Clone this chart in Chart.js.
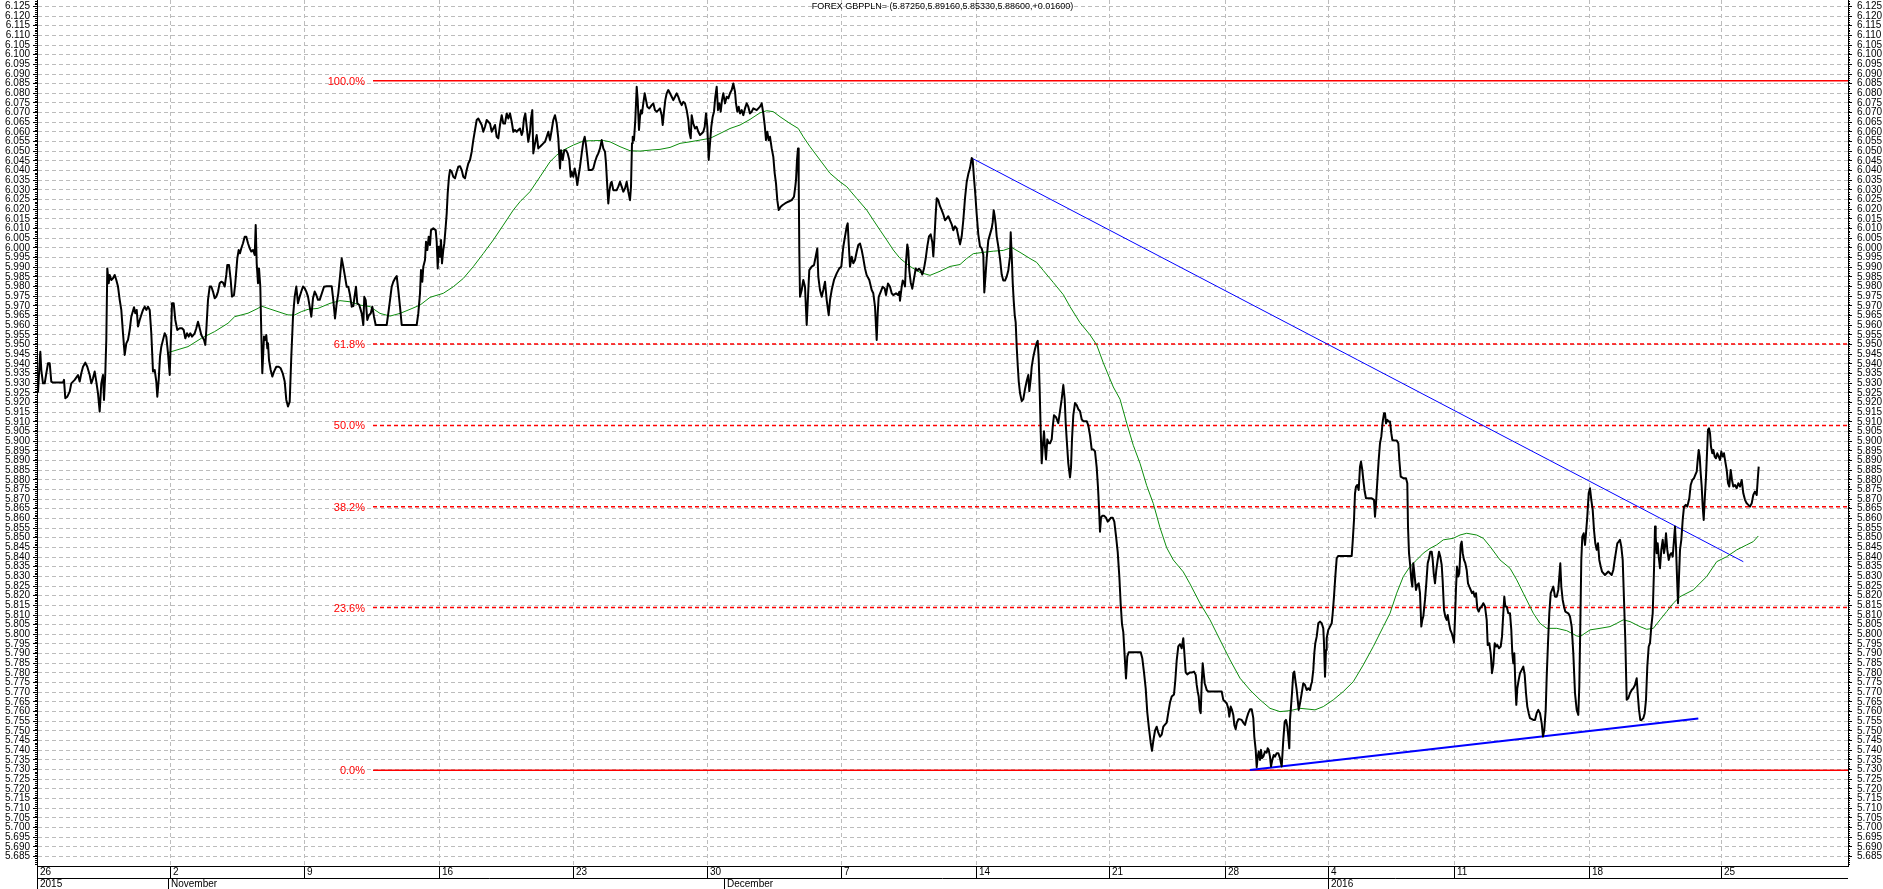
<!DOCTYPE html>
<html>
<head>
<meta charset="utf-8">
<script src="https://cdn.jsdelivr.net/npm/chart.js@4.4.0/dist/chart.umd.min.js"></script>
<style>
html, body { margin: 0; padding: 0; background: #fff; }
</style>
</head>
<body>
<canvas id="Chart" width="1883" height="889"></canvas>
<script>
// bar index = hourly bar counted from Mon 26 Oct 2015
const weekBars = [0, 133, 267, 402, 536, 670, 804, 939, 1072, 1188, 1291, 1417, 1552, 1684];
const weekLabels = ["26", "2", "9", "16", "23", "30", "7", "14", "21", "28", "4", "11", "18", "25"];
const monthBars = [0, 131, 687, 1291];
const monthLabels = ["2015", "November", "December", "2016"];
const lastBar = 1811;
const yMin = 5.6801, yMax = 6.1283;
const titleText = "FOREX GBPPLN= (5.87250,5.89160,5.85330,5.88600,+0.01600)";

// GBPPLN close [bar, price]
const price = [
[0,5.9265],[1,5.9256],[3.3,5.9463],[4.3,5.9368],[6,5.9299],[7.7,5.9299],[9.3,5.9351],[11,5.9403],[12.7,5.9403],[14.3,5.9308],[16,5.9303],[21,5.9303],[26,5.9303],[27,5.9317],[28.3,5.9222],[30.3,5.923],[32.7,5.9256],[34.3,5.9299],[37.7,5.9317],[41,5.9342],[42.7,5.9308],[44.3,5.9351],[46,5.9385],[48.3,5.9406],[50.3,5.9385],[52.7,5.9342],[54.3,5.9299],[56,5.9325],[57.7,5.936],[59.3,5.9308],[61,5.9247],[62.7,5.9153],[64.3,5.9299],[66,5.9342],[67,5.9213],[68.3,5.9351],[69.3,5.9523],[70.3,5.9894],[71.7,5.9817],[72.7,5.986],[74.3,5.9834],[76,5.9843],[77.7,5.986],[79.3,5.9834],[81,5.98],[82.7,5.9731],[84.3,5.9679],[86,5.9558],[87.7,5.9446],[89.3,5.9506],[91,5.9524],[92.7,5.9575],[94.3,5.9644],[97,5.9693],[98.3,5.9662],[99.7,5.9679],[101,5.9593],[102.7,5.9627],[104.3,5.9653],[106,5.9679],[107.7,5.9696],[109.3,5.9679],[111,5.9696],[112.7,5.9679],[114.3,5.9558],[116,5.936],[117.7,5.9368],[119.3,5.9308],[120.3,5.923],[121.7,5.9317],[123,5.9437],[124.3,5.9489],[126,5.9524],[127.7,5.9558],[129.3,5.9541],[131,5.9455],[132.7,5.9342],[133.7,5.9506],[135,5.9713],[136.7,5.9713],[138.3,5.9627],[140.3,5.9575],[142.7,5.9584],[145,5.9584],[146.7,5.9575],[148.3,5.9532],[150,5.9558],[151.7,5.9541],[153.3,5.9558],[155,5.9541],[157.7,5.9558],[159.3,5.9584],[161,5.9618],[162.7,5.9584],[164.3,5.9549],[167,5.9524],[168.3,5.9498],[169.3,5.9575],[171,5.9731],[172.7,5.98],[174.3,5.98],[176,5.9774],[177.7,5.9739],[179.3,5.9748],[181,5.9774],[182.7,5.9817],[184.3,5.9825],[186,5.982],[187.7,5.98],[189.3,5.986],[190.3,5.9912],[192,5.9912],[193.7,5.9834],[195,5.9748],[197,5.9756],[198.3,5.9817],[200.3,5.9946],[201.7,5.9989],[203,5.9972],[204.3,5.9998],[206,6.0024],[207.7,6.0058],[209.3,6.0058],[211,6.0024],[212.7,5.9998],[214.3,5.9981],[216,5.9989],[217.7,5.9963],[218.7,6.0119],[219.7,5.992],[221,5.9817],[222,5.9894],[223.3,5.98],[224.3,5.9558],[225.3,5.9351],[227,5.9541],[228.3,5.9524],[229.3,5.9549],[230.3,5.948],[231,5.9506],[232,5.942],[233.7,5.9368],[235.3,5.9334],[237,5.936],[239.3,5.9385],[241.7,5.9385],[243.7,5.9377],[245.7,5.9351],[247.7,5.9308],[249.3,5.9213],[251,5.9179],[252.7,5.9204],[254.3,5.9437],[256,5.9644],[257.7,5.9748],[259.3,5.98],[261,5.9713],[262.7,5.9748],[264.3,5.9774],[266,5.98],[267.7,5.9791],[269.3,5.9774],[271,5.9748],[272.7,5.9696],[274.3,5.9644],[276,5.9739],[277.7,5.9774],[279.3,5.9756],[281,5.9731],[282.7,5.9731],
[287,5.9799],[289.7,5.9802],[294.7,5.9802],[296.3,5.973],[298,5.9635],[299.7,5.9713],[301.3,5.9765],[303,5.9851],[304.7,5.9946],[306.3,5.9903],[308,5.9851],[309.7,5.9799],[311.3,5.9799],[313,5.9756],[314.7,5.9696],[316.3,5.9699],[318,5.9765],[319,5.9799],[320.3,5.9713],[322.3,5.9704],[324.7,5.9661],[326.3,5.9601],[327.3,5.9747],[328.7,5.973],[330.3,5.9627],[332,5.9653],[333.7,5.9661],[335.3,5.9696],[337,5.9644],[338.7,5.9601],[349.7,5.9601],[351.3,5.9661],[353,5.973],[354.7,5.9799],[356.3,5.9825],[358,5.9842],[359.7,5.9854],[361.3,5.9782],[363,5.9696],[364.7,5.9601],[379.7,5.9601],[381.3,5.9661],[383,5.9765],[384,5.9885],[385.3,5.9825],[386.3,5.9903],[388,5.9937],[389,6.0032],[390.3,5.9989],[391.7,6.0058],[393,6.0015],[394,6.0092],[396.3,6.0101],[398.7,6.0092],[399.7,6.0032],[400.7,5.9894],[401.7,6.0006],[403,5.9954],[404,6.0041],[405,5.992],[406.3,5.9989],[407.3,6.0023],[408.7,6.011],[409.7,6.0179],[410.7,6.0282],[412,6.0368],[413,6.0403],[414.7,6.0394],[416.3,6.0368],[418,6.036],[419.7,6.0394],[421.3,6.042],[423,6.0423],[424.7,6.0403],[426.3,6.0368],[428,6.036],[429.7,6.0403],[431.3,6.0437],[433,6.0455],[434.7,6.0498],[436.3,6.0558],[438,6.061],[439.7,6.0662],[441.3,6.067],[443,6.0653],[444.7,6.0636],[446.3,6.0601],[448,6.0627],[449.7,6.0662],[451.3,6.0653],[453,6.0644],[454.7,6.0601],[456.3,6.0618],[458,6.0636],[459.7,6.0575],[461.3,6.0567],[463,6.0636],[464.7,6.0687],[466.3,6.0644],[468,6.0644],[469.7,6.0696],[471.3,6.067],[473,6.0696],[474.7,6.0653],[476.3,6.0601],[478,6.061],[479.7,6.0601],[481.3,6.061],[483,6.0618],[484.7,6.0584],[485.7,6.0601],[487,6.067],[488.3,6.0696],[489.7,6.0627],[491.3,6.0549],[493,6.0601],[494,6.067],[495.3,6.0713],[496.3,6.0489],[498,6.0541],[499.7,6.0584],[501.3,6.0515],[503,6.0524],[504.7,6.0532],[506.3,6.0541],[508,6.0549],[509.7,6.0575],[511.3,6.0601],[513,6.0558],[514.7,6.061],[516.3,6.0662],[518,6.0687],[519.7,6.0644],[521.3,6.0567],[523,6.0411],[524,6.0506],[525.7,6.0455],[527.3,6.0506],[529,6.0506],[530.7,6.0489],[532.3,6.0455],[533.7,6.0368],[534.7,6.0394],[536.3,6.0368],[537.7,6.0411],[539,6.0377],[540.3,6.0325],[541.7,6.0377],[543,6.042],[544.7,6.0489],[546.3,6.0549],[547.7,6.0575],[549,6.0532],[550.3,6.0472],[551.7,6.0403],[554.7,6.0403],[556.3,6.0411],[558,6.0446],[559.7,6.0472],[561.3,6.0489],[563,6.0515],[564.7,6.0558],[566.3,6.0515],[568,6.0498],[569,6.0437],[570.3,6.0317],[571.3,6.023],[572.3,6.0291],[573.7,6.0334],
[574.7,6.0342],[576.3,6.0299],[579.7,6.0299],[581.3,6.0317],[583,6.0342],[584.7,6.0317],[586.3,6.0291],[588,6.0308],[589.7,6.0342],[591.3,6.0291],[593,6.0247],[594,6.0317],[595,6.0541],[595.7,6.0575],[597,6.0558],[598.3,6.0662],[599.7,6.0834],[600.7,6.0765],[602,6.061],[603,6.0679],[604,6.0713],[605,6.0696],[606.3,6.0748],[607.7,6.08],[609,6.0765],[610.3,6.0731],[612.3,6.0722],[614.7,6.0739],[616.3,6.0748],[618,6.0713],[619.7,6.0705],[621.3,6.0713],[623,6.0722],[624.7,6.0687],[625.7,6.0636],[627,6.0705],[628.3,6.0765],[629.7,6.08],[631.3,6.0817],[633,6.08],[634.7,6.0782],[636.3,6.0765],[638,6.0782],[639.7,6.08],[641.3,6.0782],[643,6.0756],[644.7,6.0739],[646.3,6.0756],[648,6.0748],[649.7,6.0713],[651.3,6.0662],[652.3,6.0601],[653.7,6.0567],[654.7,6.0687],[656.3,6.0644],[658,6.0618],[659.7,6.0627],[661.3,6.0601],[663,6.0584],[664.7,6.0592],[666.3,6.0601],[667.7,6.0627],[669,6.0696],[670.3,6.0627],[671.7,6.0455],[673,6.0541],[674.3,6.0627],[675.7,6.0679],[677,6.0705],[678.3,6.0782],[679.7,6.0834],[681,6.0713],[682.3,6.0748],[683.7,6.0705],[685,6.0765],[686.3,6.08],[688,6.0748],[689.7,6.0782],[691.3,6.0774],[693,6.08],[694.7,6.0817],[696.3,6.0851],[698,6.0808],[699,6.0748],[700.3,6.0705],[701.7,6.0731],[703,6.0696],[704.7,6.0713],[706.3,6.0687],[708,6.0722],[709.7,6.0748],[711.3,6.0731],[713,6.0696],[714.7,6.0705],[716.3,6.0722],[719.7,6.0713],[723,6.0731],[724.7,6.0748],[726.3,6.0696],[727.7,6.0636],[729,6.0558],[730.3,6.0601],[731.7,6.0558],[733,6.0575],[734.7,6.0515],[736.3,6.0472],[737.7,6.0386],[739,6.0334],[740.3,6.0247],[741.7,6.0196],[743.7,6.0213],[745.7,6.0222],[748,6.023],[751.3,6.0239],[754.7,6.0247],[757,6.0265],[758.3,6.0317],[759,6.0351],[760,6.0455],[761,6.0515],[761.7,6.0351],[762.3,5.9989],[763,5.9747],[764.7,5.9782],[766.3,5.9834],[768,5.9799],[769.7,5.9601],[771,5.9747],[772.3,5.9885],[774.7,5.9903],[777,5.9911],[779,5.9963],[780.3,5.9997],[781.3,5.9851],[783,5.9782],[784.7,5.9747],[786.3,5.9782],[788,5.9825],[789.7,5.973],[791.7,5.9652],[793,5.973],[794.7,5.9782],[797,5.9834],[799.7,5.9868],[802.3,5.9894],[804.3,5.9903],[806.3,6.0006],[808,6.0058],[809.7,6.011],[810.7,6.0127],[811.7,6.0023],[813,5.9903],[814.7,5.9954],[816.3,5.992],[818,5.9937],[819.7,5.998],[821.3,6.0015],[823,6.0023],[824.7,5.9989],[826.3,5.9946],[828,5.9894],[829.7,5.9859],[832.3,5.9834],[834.7,5.9782],[836.3,5.9765],[838,5.9696],[839.7,5.9523],[840.7,5.9661],[841.7,5.9747],[843.7,5.9773],[845.7,5.9799],[847.7,5.979],[849,5.9756],[851,5.9816],[853,5.9799],[854.7,5.9765],[856.3,5.9756],[859,5.9765],[861,5.9756],[862.3,5.9773],
[863,5.9727],[864.7,5.98],[865.7,5.9831],[867,5.9821],[868,5.98],[869,5.9925],[870.3,6.0018],[871.3,5.9987],[872.3,5.9883],[873.7,5.9821],[875.3,5.9789],[877,5.9841],[878.7,5.9893],[880.3,5.9883],[882,5.9893],[883.7,5.9883],[885.3,5.9862],[887,5.9893],[888.7,5.9945],[890.3,6.0008],[892,6.006],[893.7,6.007],[895.3,6.0029],[896.3,5.9956],[897.3,6.0039],[898.7,6.0174],[899.7,6.0257],[901.3,6.0247],[903,6.0216],[904.7,6.0195],[906.3,6.0174],[908,6.0143],[909.7,6.0153],[911.3,6.0164],[913,6.0143],[914.7,6.0122],[916.3,6.0091],[918,6.0112],[919.7,6.0101],[921.3,6.006],[923,6.0018],[924.7,6.006],[926.3,6.0143],[928,6.0257],[929.7,6.0341],[931.3,6.0382],[933,6.0413],[934.7,6.0465],[935.7,6.0455],[937,6.0361],[938.3,6.0278],[939.7,6.0174],[941.3,6.007],[943,6.0008],[944.7,5.9997],[946.3,5.9966],[947.3,5.9769],[948.3,5.9841],[949.7,5.9945],[951.3,6.0039],[953,6.007],[954.7,6.0101],[955.7,6.0133],[956.7,6.0195],[957.7,6.0164],[958.7,6.0122],[959.7,6.006],[961.3,6.0008],[963,5.9945],[964.7,5.9862],[966.3,5.9831],[968,5.9831],[969.7,5.9852],[971.3,5.9883],[973,5.9956],[973.7,6.0081],[974.7,5.9966],[975.7,5.9821],[976.7,5.9727],[977.7,5.9654],[978.7,5.9613],[979.7,5.9488],[980.7,5.9394],[981.7,5.9311],[983,5.9249],[984.7,5.9207],[986.3,5.9217],[988,5.9269],[989.7,5.9311],[991.3,5.9342],[992.3,5.9259],[993.7,5.9321],[994.7,5.9384],[996.3,5.9436],[998,5.9477],[999.7,5.9509],[1000.7,5.9519],[1001.7,5.9425],[1002.7,5.9259],[1003.7,5.9051],[1004.7,5.8885],[1005.7,5.8968],[1007,5.9051],[1008,5.8968],[1009,5.8905],[1010.3,5.9009],[1011.7,5.8989],[1013,5.8989],[1014.7,5.9009],[1015.7,5.9072],[1017,5.9134],[1019,5.9124],[1021.3,5.9093],[1023,5.9155],[1024.7,5.9217],[1026.3,5.929],[1027.7,5.9217],[1028.7,5.9093],[1029.7,5.9009],[1031.3,5.8885],[1033,5.8812],[1034,5.8864],[1035,5.9009],[1036.3,5.9134],[1038,5.9197],[1039.7,5.9186],[1041.3,5.9165],[1043,5.9155],[1044.7,5.9113],[1046.3,5.9103],[1049.7,5.9103],[1051.3,5.9082],[1053,5.903],[1054.7,5.8957],[1056.3,5.8957],[1058,5.8947],[1059.7,5.8864],[1061,5.876],[1062,5.8656],[1063,5.8531],[1064,5.8604],[1065.3,5.8614],[1067,5.8614],[1069,5.8604],[1070.7,5.8583],[1072.3,5.8593],[1074,5.8604],[1075.7,5.8604],[1077.3,5.8583],[1079,5.851],[1080.7,5.8427],[1082.3,5.8302],[1083.7,5.8157],[1085,5.8053],[1086.3,5.8011],[1087.7,5.7886],[1089,5.7772],[1090.3,5.7886],[1091.7,5.7907],[1103.7,5.7907],[1105.3,5.7876],[1107,5.7803],[1108.7,5.772],[1110.3,5.7595],[1112,5.7512],[1113.7,5.7439],[1115,5.7397],[1116.3,5.7449],[1118,5.7501],[1119.7,5.7522],[1121.3,5.7491],[1123,5.747],[1124.7,5.7481],[1126.3,5.7522],[1128,5.7533],[1129.7,5.7543],[1131.3,5.7595],[1133,5.7647],[1134.7,5.7678],[1137,5.7689],[1138.3,5.7761],[1139.7,5.7865],[1141.3,5.7938],[1143,5.7949],[1144.7,5.7928],[1146.3,5.798],[1147.3,5.7907],[1148.7,5.7803],[1150.3,5.7793],[1153,5.7803],
[1154.7,5.7802],[1157,5.7807],[1158.7,5.779],[1159.7,5.7738],[1160.7,5.7704],[1161.7,5.7678],[1162.7,5.7609],[1163.7,5.7592],[1164.7,5.7747],[1165.7,5.785],[1166.7,5.7799],[1167.7,5.7747],[1168.7,5.773],[1169.7,5.7712],[1171.3,5.7704],[1184.7,5.7704],[1186.3,5.7661],[1188,5.7652],[1189.7,5.7643],[1191.3,5.7617],[1192.3,5.7574],[1193.7,5.7626],[1195,5.7609],[1196.3,5.7583],[1197.3,5.7531],[1198.7,5.7509],[1199.7,5.754],[1201.3,5.756],[1203,5.756],[1204.7,5.7557],[1206.3,5.7543],[1208,5.7531],[1209.7,5.7566],[1211.3,5.7592],[1213,5.7612],[1214.7,5.7612],[1216.3,5.7566],[1217.3,5.7471],[1218.7,5.7402],[1219.7,5.7312],[1220.7,5.7367],[1221.7,5.7393],[1223,5.735],[1224,5.7402],[1225,5.7359],[1226.3,5.7367],[1228,5.7393],[1229.7,5.7388],[1230.7,5.741],[1231.7,5.7402],[1233,5.7367],[1234,5.7316],[1235.3,5.735],[1236.7,5.7376],[1238,5.7367],[1239.7,5.7385],[1241.3,5.7385],[1243,5.7359],[1244.7,5.7316],[1246.3,5.7454],[1247.7,5.7548],[1249,5.7557],[1250.3,5.7523],[1251.3,5.7471],[1252.3,5.741],[1253,5.7557],[1254,5.7626],[1255,5.7695],[1256.3,5.7799],[1257.3,5.7807],[1258.3,5.7764],[1259.7,5.7712],[1260.7,5.7661],[1261.7,5.7609],[1263,5.7643],[1264.7,5.7695],[1266.3,5.7747],[1268,5.7738],[1269.7,5.7712],[1271.3,5.7721],[1273,5.7712],[1274,5.7738],[1275,5.7755],[1276.3,5.7816],[1277.3,5.7902],[1278.3,5.7954],[1279.7,5.7988],[1281.3,5.8057],[1283,5.8066],[1284.7,5.8057],[1286.3,5.8031],[1287,5.7954],[1288,5.7781],[1289,5.7919],[1289.7,5.798],[1291.3,5.8023],[1293,5.804],[1294.7,5.8057],[1295.7,5.8109],[1297,5.8195],[1298.3,5.8299],[1299.7,5.8394],[1301.3,5.8406],[1314.7,5.8406],[1315.7,5.848],[1317,5.8592],[1318,5.873],[1319,5.8765],[1320.3,5.8773],[1321.7,5.8747],[1323,5.8868],[1324,5.8894],[1325.3,5.8851],[1326.3,5.8799],[1327.7,5.8739],[1329,5.8704],[1334.7,5.8704],[1337,5.8696],[1338,5.8609],[1339,5.8678],[1340.3,5.879],[1341.7,5.8903],[1343,5.8989],[1344.3,5.9023],[1345.7,5.9101],[1347,5.9144],[1348,5.9144],[1349,5.9092],[1350.3,5.911],[1351.7,5.9101],[1353,5.9101],[1354.3,5.9041],[1355.3,5.9006],[1357,5.9003],[1359.7,5.9003],[1361.3,5.8989],[1362.3,5.8903],[1363.7,5.8816],[1366.3,5.8808],[1369,5.8808],[1370.3,5.8782],[1371,5.8558],[1372,5.842],[1373.3,5.8351],[1374.3,5.8282],[1375.3,5.8247],[1376.3,5.8368],[1377.7,5.8299],[1379,5.823],[1380.3,5.8256],[1381.7,5.8264],[1383,5.8213],[1384.3,5.804],[1385.3,5.8075],[1386.3,5.8092],[1388,5.8178],[1389.3,5.8264],[1390.7,5.8368],[1392,5.8394],[1393.3,5.8428],[1394.7,5.8428],[1395.7,5.8385],[1396.7,5.8316],[1398,5.8264],[1399.3,5.8333],[1400.7,5.8385],[1402,5.8428],[1403.3,5.8402],[1404.7,5.8359],[1405.7,5.8273],[1407,5.8126],[1408.3,5.8092],[1409.7,5.8075],[1410.7,5.81],[1412,5.8057],[1413.3,5.8023],[1414.7,5.8006],[1415.7,5.7988],[1417,5.7957],[1418,5.8083],[1419,5.8238],[1420,5.8351],[1421.3,5.8299],[1422.3,5.8316],[1423.7,5.8463],[1424.7,5.848],[1425.7,5.842],[1427,5.8385],[1428.3,5.8368],[1429.7,5.8333],[1431,5.8264],[1432.3,5.8247],[1433.7,5.823],[1435,5.8213],[1436.3,5.8221],[1437.7,5.8195],[1439,5.8213],[1440.3,5.8135],[1441.7,5.8118],[1443,5.8135],
[1444.7,5.8144],[1446.3,5.8161],[1448,5.8144],[1449.7,5.8075],[1450.7,5.7945],[1452.3,5.7954],[1453.7,5.7902],[1455,5.7799],[1456.3,5.7842],[1457.7,5.7954],[1459,5.7937],[1460.3,5.7945],[1462,5.7928],[1463.7,5.7937],[1465,5.7988],[1466.3,5.8109],[1467.3,5.8195],[1468.3,5.8144],[1469.7,5.8144],[1471.3,5.8109],[1473,5.8109],[1474.3,5.8023],[1475.3,5.7902],[1476.3,5.785],[1477.3,5.7902],[1478.3,5.7747],[1479.3,5.7635],[1480.3,5.7721],[1481.7,5.7764],[1483,5.7799],[1484.7,5.7816],[1486.3,5.7833],[1487.7,5.779],[1489,5.7695],[1490.3,5.7626],[1491.7,5.7592],[1493,5.7566],[1496.3,5.7557],[1498,5.7557],[1499.7,5.7592],[1501.3,5.7609],[1503,5.7592],[1504.7,5.754],[1506,5.7471],[1507.3,5.7505],[1508.7,5.7609],[1509.7,5.7781],[1511,5.7954],[1512.3,5.8109],[1513.7,5.8213],[1515,5.823],[1516.3,5.8247],[1518,5.8195],[1519.7,5.8195],[1521.3,5.823],[1522.3,5.8299],[1523.3,5.8368],[1524.3,5.8247],[1525.7,5.8178],[1527,5.8144],[1528.3,5.8118],[1531.3,5.8109],[1533,5.8092],[1534.7,5.804],[1536.3,5.7902],[1538,5.7695],[1539.7,5.7609],[1541.3,5.7583],[1542.3,5.773],[1543.3,5.804],[1544.3,5.8385],[1545.3,5.8506],[1546.7,5.8523],[1548,5.8463],[1549,5.8523],[1550.3,5.8609],[1551.7,5.873],[1553,5.8756],[1554.3,5.8696],[1555.7,5.8644],[1557,5.854],[1558.3,5.8471],[1559.7,5.8437],[1561,5.8471],[1562.3,5.8385],[1563.7,5.8351],[1565,5.8325],[1568,5.8307],[1571.3,5.8325],[1574.7,5.8307],[1576.3,5.8333],[1577.7,5.8385],[1579,5.8428],[1580.3,5.8471],[1581.7,5.848],[1583,5.8489],[1584.3,5.8454],[1585.7,5.8385],[1587,5.8178],[1588.3,5.7971],[1589.7,5.7661],[1591.3,5.7669],[1593,5.7695],[1594.7,5.7712],[1596.3,5.7721],[1598,5.7738],[1599.7,5.7773],[1600.7,5.7695],[1602,5.7609],[1603.3,5.7557],[1604.7,5.7557],[1606.3,5.7566],[1607.7,5.7592],[1609,5.7661],[1610.3,5.7833],[1611.7,5.7937],[1613,5.7954],[1614.3,5.804],[1615.7,5.8109],[1617,5.8333],[1618,5.8558],[1618.7,5.8506],[1619.7,5.842],[1620.7,5.8471],[1621.7,5.8402],[1623,5.8342],[1624.3,5.8437],[1625.7,5.8489],[1627,5.842],[1628,5.8454],[1629,5.8523],[1630.3,5.8437],[1631.7,5.8385],[1633,5.8411],[1634.3,5.842],[1635.7,5.8402],[1637,5.8489],[1638,5.8558],[1639,5.8454],[1640,5.8299],[1641,5.8161],[1642,5.8299],[1643,5.8437],[1644.3,5.8489],[1645.7,5.8592],[1647,5.8661],[1648.7,5.867],[1650.3,5.8661],[1652.3,5.8704],[1653.7,5.8773],[1655.3,5.8799],[1657,5.8808],[1658.3,5.8825],[1659.7,5.8842],[1660.7,5.8903],[1661.7,5.8954],[1662.7,5.892],[1663.7,5.8834],[1664.7,5.8765],[1665.7,5.8661],[1666.7,5.8592],[1667.7,5.8696],[1669,5.8816],[1670,5.8937],[1671,5.9058],[1672,5.9066],[1673,5.9041],[1674,5.8971],[1675.3,5.8937],[1676.3,5.8954],[1677.7,5.892],[1679,5.8911],[1680.3,5.8937],[1681.7,5.892],[1683,5.8903],[1684.3,5.8946],[1685.7,5.892],[1687,5.8937],[1688.3,5.8894],[1689.7,5.8851],[1691,5.8782],[1692.3,5.8765],[1693.7,5.8851],[1695,5.8799],[1696.3,5.8765],[1698,5.8773],[1699.7,5.8756],[1701.3,5.8782],[1703,5.8765],[1704.7,5.8799],[1706.3,5.873],[1708,5.8696],[1709.7,5.8678],[1711.3,5.867],[1713,5.8661],[1714.7,5.8678],[1716.3,5.8721],[1718,5.8739],[1719.7,5.8721],[1720.7,5.8799],[1721.7,5.8868]
];

// moving average (green) [bar, price]
const movingAvg = [
[131,5.9458],[151,5.9489],[164.3,5.9532],[177.7,5.9567],[191,5.961],[197.7,5.9644],[211,5.9662],[221,5.9687],[224.3,5.9699],[231,5.9687],[241,5.967],[251,5.9653],[257.7,5.9653],[264.3,5.967],[271,5.9682],[281,5.9687],[293,5.9713],[303,5.9727],[313,5.9721],[323,5.9704],[333,5.9696],[343,5.9661],[353,5.9647],[363,5.9661],[373,5.9682],[383,5.9704],[393,5.9744],[406.3,5.9765],[416.3,5.9799],[426.3,5.9842],[436.3,5.9903],[446.3,5.9971],[456.3,6.0041],[466.3,6.0118],[476.3,6.0196],[483,6.0239],[493,6.0291],[503,6.0368],[513,6.0446],[519.7,6.048],[526.3,6.0506],[536.3,6.0532],[546.3,6.0553],[556.3,6.0555],[566.3,6.0556],[573,6.0549],[583,6.0524],[593,6.0503],[603,6.0501],[613,6.0506],[623,6.051],[633,6.052],[643,6.0541],[653,6.0549],[663,6.0558],[673,6.0567],[683,6.0592],[693,6.0618],[703,6.0636],[713,6.0665],[723,6.0699],[729.7,6.071],[736.3,6.0705],[743,6.0679],[753,6.0644],[761.3,6.0618],[766.3,6.0575],[773,6.0524],[783,6.0455],[793,6.0386],[803,6.0342],[809.7,6.0317],[819.7,6.0256],[829.7,6.0196],[836.3,6.0144],[843,6.0092],[849.7,6.0041],[856.3,5.9989],[863,5.9946],[873,5.9904],[883,5.9873],[893,5.9858],[903,5.9879],[913,5.9904],[923,5.9914],[929.7,5.9945],[936.3,5.997],[946.3,5.9977],[956.3,5.9983],[966.3,5.9987],[974.7,6.0002],[983,5.9977],[993,5.9945],[999.7,5.9925],[1006.3,5.9883],[1016.3,5.9821],[1026.3,5.9758],[1033,5.9696],[1043,5.9613],[1053,5.955],[1059.7,5.9498],[1066.3,5.9405],[1076.3,5.928],[1083,5.9217],[1089.7,5.9093],[1096.3,5.8978],[1103,5.8885],[1109.7,5.877],[1116.3,5.8677],[1123,5.8552],[1129.7,5.8448],[1136.3,5.8385],[1146.3,5.8323],[1153,5.8261],[1163,5.8161],[1173,5.8075],[1183,5.7971],[1193,5.7868],[1203,5.7773],[1213,5.7712],[1223,5.7661],[1233,5.7617],[1243,5.76],[1253,5.7605],[1263,5.7617],[1273,5.7612],[1278,5.7609],[1286.3,5.7626],[1296.3,5.7661],[1306.3,5.7704],[1316.3,5.7755],[1326.3,5.7842],[1336.3,5.7937],[1346.3,5.804],[1353,5.8109],[1359.7,5.8213],[1366.3,5.8299],[1373,5.8351],[1379.7,5.8385],[1386.3,5.842],[1393,5.8445],[1399.7,5.8463],[1406.3,5.8489],[1416.3,5.8497],[1423,5.8514],[1429.7,5.8523],[1439.7,5.8514],[1446.3,5.8497],[1453,5.8455],[1463,5.8385],[1473,5.8342],[1479.7,5.8282],[1486.3,5.8213],[1496.3,5.8109],[1503,5.8057],[1509.7,5.8031],[1519.7,5.8031],[1529.7,5.8019],[1539.7,5.7992],[1543,5.7988],[1553,5.8023],[1563,5.8031],[1573,5.804],[1579.7,5.8057],[1586.3,5.8075],[1593,5.8066],[1603,5.804],[1609.7,5.8026],[1616.3,5.8031],[1623,5.8075],[1629.7,5.8118],[1636.3,5.8161],[1643,5.8195],[1656.3,5.823],[1669.7,5.8299],[1679.7,5.8376],[1689.7,5.8402],[1699.7,5.8437],[1709.7,5.8463],[1716.3,5.848],[1721.3,5.8509]
];

// trend lines (blue)
const upperTrend = [[934.7, 6.0465], [1706.3, 5.8376]];
const lowerTrend = [[1213, 5.7298], [1661.3, 5.7565]];

// fibonacci retracement
const fibStartBar = 336;
const fibLevels = [6.0865, 5.9502, 5.9081, 5.8660, 5.8139, 5.7297];
const fibLabels = ["100.0%", "61.8%", "50.0%", "38.2%", "23.6%", "0.0%"];
const fibDashed = [false, true, true, true, true, false];

const FONT = "'Liberation Sans', Arial, sans-serif";
const toXY = arr => arr.map(p => ({x: p[0], y: p[1]}));

const datasets = [
  { data: toXY(price), borderColor: "#000000", borderWidth: 2, borderJoinStyle: "round", order: 0 },
  { data: toXY(movingAvg), borderColor: "#0c8c0c", borderWidth: 1, order: 1 },
  { data: toXY(upperTrend), borderColor: "#0000ff", borderWidth: 1, order: 2 },
  { data: toXY(lowerTrend), borderColor: "#0000ff", borderWidth: 2, order: 2 }
];
fibLevels.forEach((lv, i) => {
  datasets.push({
    data: [{x: fibStartBar, y: lv}, {x: lastBar, y: lv}],
    borderColor: "#ff0000",
    borderWidth: 1.5,
    borderDash: fibDashed[i] ? [4, 3] : [],
    order: 3
  });
});
datasets.forEach(d => { d.pointRadius = 0; d.fill = false; d.tension = 0; });

const decor = {
  id: "decor",
  afterDraw(chart) {
    const ctx = chart.ctx;
    const xs = chart.scales.x, ys = chart.scales.y;
    const area = chart.chartArea;
    ctx.save();

    // minor ruler ticks every 0.001
    ctx.strokeStyle = "#000";
    ctx.lineWidth = 1;
    ctx.beginPath();
    for (let k = Math.ceil(yMin * 1000); k <= Math.floor(yMax * 1000); k++) {
      if (k % 5 === 0) continue;
      const py = Math.round(ys.getPixelForValue(k / 1000)) + 0.5;
      ctx.moveTo(area.left - 2, py); ctx.lineTo(area.left, py);
      ctx.moveTo(area.right, py); ctx.lineTo(area.right + 2, py);
    }
    ctx.stroke();

    // fib labels
    ctx.fillStyle = "#ff0000";
    ctx.font = "11px " + FONT;
    ctx.textAlign = "right";
    ctx.textBaseline = "middle";
    fibLevels.forEach((lv, i) => {
      ctx.fillText(fibLabels[i], xs.getPixelForValue(fibStartBar) - 8, ys.getPixelForValue(lv) + 1);
    });

    // title
    ctx.fillStyle = "#000";
    ctx.font = "9px " + FONT;
    ctx.textAlign = "center";
    ctx.fillText(titleText, (area.left + area.right) / 2, 7);

    // date strip
    const b = area.bottom;
    const row2 = b + 12;
    ctx.beginPath();
    ctx.moveTo(area.left, row2 + 0.5); ctx.lineTo(area.right, row2 + 0.5);
    weekBars.forEach(v => {
      const px = Math.round(xs.getPixelForValue(v)) + 0.5;
      ctx.moveTo(px, b); ctx.lineTo(px, row2);
    });
    monthBars.forEach(v => {
      const px = Math.round(xs.getPixelForValue(v)) + 0.5;
      ctx.moveTo(px, row2); ctx.lineTo(px, chart.height);
    });
    ctx.stroke();
    ctx.textAlign = "left";
    ctx.font = "10px " + FONT;
    weekBars.forEach((v, i) => {
      ctx.fillText(weekLabels[i], Math.round(xs.getPixelForValue(v)) + 3, b + 6.5);
    });
    monthBars.forEach((v, i) => {
      ctx.fillText(monthLabels[i], Math.round(xs.getPixelForValue(v)) + 3, row2 + 6);
    });
    ctx.restore();
  }
};

const yAxis = (pos) => ({
  position: pos,
  min: yMin,
  max: yMax,
  ticks: {
    stepSize: 0.005,
    includeBounds: false,
    autoSkip: false,
    color: "#000",
    padding: pos === "left" ? 3 : 5,
    font: { family: FONT, size: 10 },
    callback: v => Number(v).toFixed(3)
  },
  grid: {
    drawOnChartArea: pos === "left",
    color: "#bcbcbc",
    tickColor: "#000",
    tickLength: 4,
    lineWidth: 1
  },
  border: { display: true, color: "#000", width: 1, dash: [4, 3] },
  afterFit: s => {
    s.width = pos === "left" ? 37 : 35;
    s.paddingTop = 0;
    s.paddingBottom = 0;
  }
});

new Chart("Chart", {
  type: "line",
  data: { datasets: datasets },
  options: {
    responsive: false,
    animation: false,
    events: [],
    layout: { padding: 0, autoPadding: false },
    plugins: { legend: { display: false }, tooltip: { enabled: false }, title: { display: false } },
    scales: {
      x: {
        type: "linear",
        min: 0,
        max: lastBar,
        afterBuildTicks: s => { s.ticks = weekBars.map(v => ({ value: v })); },
        ticks: { display: false },
        grid: { color: "#bcbcbc", drawTicks: false, lineWidth: 1 },
        border: { display: true, color: "#000", width: 1, dash: [4, 3] },
        afterFit: s => { s.height = 23; s.paddingLeft = 0; s.paddingRight = 0; }
      },
      y: yAxis("left"),
      y2: yAxis("right")
    }
  },
  plugins: [decor]
});
</script>
</body>
</html>
